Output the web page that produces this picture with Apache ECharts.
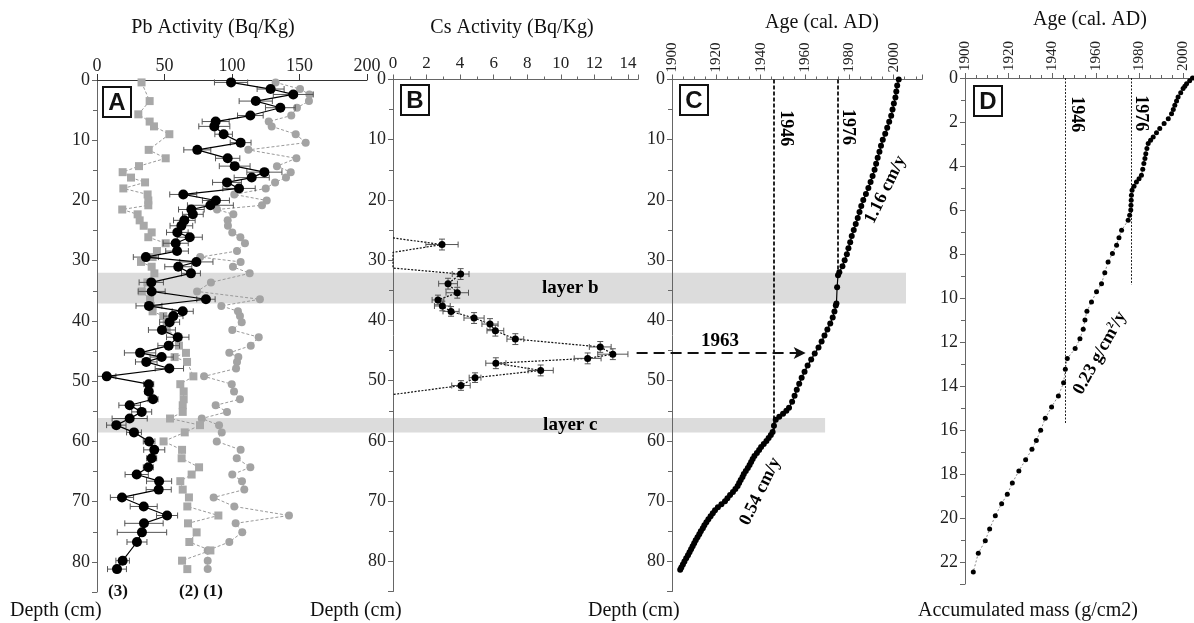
<!DOCTYPE html>
<html><head><meta charset="utf-8">
<script src="https://cdn.jsdelivr.net/npm/echarts@6/dist/echarts.min.js"></script>
<style>html,body{margin:0;padding:0;background:#fff}#c{width:1194px;height:623px}</style>
</head><body><div id="c"></div>
<script>
// ---------- Panel A : Pb activity ----------
const pbDepth3 = [0.4,1.5,2.4,3.5,4.6,5.9,6.9,7.7,9.0,10.4,11.6,13.0,14.3,15.3,16.2,17.0,18.0,19.0,20.0,20.8,21.5,22.3,23.3,24.2,25.3,26.1,27.1,28.4,29.4,30.2,31.0,32.1,33.6,35.1,36.4,37.5,38.4,39.2,40.2,41.5,42.7,44.1,45.3,46.0,46.8,47.9,49.2,50.5,51.7,53.0,54.0,55.1,56.2,57.3,58.5,60.0,61.4,62.8,64.3,65.5,66.6,68.0,69.3,70.8,72.3,73.6,75.1,76.7,79.8,81.2];
const pb3 = [99.3,128.6,145.4,117.6,135.8,113.6,87.9,86.9,93.8,106.4,74.3,96.8,102,124,114.6,96.3,105.2,63.9,88.1,84,69.9,71,64.7,62.5,59.5,68.7,58.3,59.3,36.2,73.6,60.2,69.6,40.2,40.5,80.7,38.5,63.5,56.5,53.8,48.1,59.8,53.1,31.9,47.9,36.5,53.6,7.2,38.3,38.3,41.5,24.2,33.1,24.2,14.3,27.4,38.6,42.4,40.5,38.0,29.4,46.0,45.7,18.5,34.6,51.9,34.8,33.3,29.6,19.0,14.8];
const pb3Err = [12.3,10,14.8,12.3,11,9.5,10,11.5,6.5,7.7,10,9,11.4,13,13,10.7,12,10,10,17,9.5,7.7,8,8.4,8,9.3,9.3,8.4,9.3,12.3,10,7,9,10,6.8,9.6,7.8,7.2,7.4,10,8.3,8,11.6,8.6,8,10.5,6.8,3.7,3,3.7,8,7.4,13,7.2,5.5,4.3,7.8,3.7,3.7,8.6,9.3,9.3,8.6,10,7.8,14.2,18.3,7.4,5,7];
const pbDepth1 = [0.4,1.5,2.4,3.5,4.6,5.9,6.9,7.7,9.0,10.4,11.6,13.0,14.3,15.3,16.2,17.0,18.0,19.0,20.0,20.8,21.5,22.3,23.3,24.2,25.3,26.1,27.1,28.4,29.4,30.2,31.0,32.1,33.6,35.1,36.4,37.5,38.4,39.2,40.2,41.5,42.7,44.1,45.3,46.0,46.8,47.9,49.2,50.5,51.7,53.0,54.0,55.1,56.2,57.3,58.5,60.0,61.4,62.8,64.3,65.5,66.6,68.0,69.3,70.8,72.3,73.6,75.1,76.7,78.1,79.8,81.2];
const pb1 = [132.3,150.4,157.3,157,148.1,143.9,127.2,129.4,147.2,154.6,112.1,147.7,133.3,143.5,140,131.9,125,101.7,125.7,122.2,88.9,101,96.8,97,100.2,106.2,109.6,103.7,76.4,106.4,100.7,113.1,84.4,74.1,120.7,92.1,104.4,105.9,107.2,100.2,119.8,113.9,98,104.7,103.7,103,79.3,99.8,101.5,105.9,87.9,96.3,77.6,90.4,92.4,88.7,106.4,103.5,113.6,100.2,107.4,109.1,86.4,101.7,142.2,102.7,107.6,98,82,82,82];
const pbDepth2 = [0.4,3.5,5.7,6.9,7.7,9.0,11.6,13.0,14.3,15.3,16.2,17.0,18.0,19.0,20.0,20.8,21.5,22.3,23.3,24.2,25.3,26.1,27.1,28.4,29.4,30.2,31.0,32.1,33.6,35.1,36.4,37.5,38.4,39.2,40.2,41.5,42.7,44.1,45.3,46.0,46.8,49.2,50.5,51.7,53.0,54.0,55.1,56.2,57.3,58.5,60.0,61.4,62.8,64.3,65.5,66.6,68.0,69.3,70.8,72.3,73.6,75.1,76.7,78.1,79.8,81.2];
const pb2 = [33,39,30.6,39,42.2,53.6,38.3,50.9,31.1,19,25.2,35.6,19.5,37.5,38,38,18.7,30.1,31.6,34.6,40.5,38,50.9,44.4,41.2,32.6,40.5,42.5,37.3,33.2,39.3,39.8,41.2,49.1,51.6,51.6,60.2,60.7,65.9,57.5,66.7,71.4,61.7,64.2,64.2,63.5,63.5,54.1,76.3,65,49.3,63,62.7,75.6,70.1,61.7,63.5,68.1,66.9,89.9,67.4,73.8,68.4,84,63,66.9];

// ---------- Panel B : Cs activity ----------
const csDepth = [26.3,27.4,28.7,31.3,32.3,33.9,35.4,36.6,37.6,38.5,39.6,40.6,41.7,43.1,44.4,45.6,46.3,47.1,48.3,49.5,50.8,52.3];
const cs = [0,2.92,0,0,4.03,3.28,3.83,2.68,2.94,3.46,4.83,5.78,6.1,7.29,12.35,13.1,11.6,6.13,8.8,4.89,4.05,0];
const csErr = [0,0.96,0,0,0.5,0.56,0.67,0.35,0.47,0.48,0.6,0.48,0.5,0.5,0.65,0.9,0.8,0.6,0.75,0.35,0.55,0];
const csDepthErr = [0,0.9,0,0,0.9,0.9,0.9,0.8,0.8,0.8,0.9,0.9,0.9,0.9,0.9,0.9,0.9,0.9,0.9,0.8,0.8,0];

// ---------- Panel C : age-depth ----------
const cDepth = [0,1,2,3,4,5,6,7,8,9,10,11,12,13,14,15,16,17,18,19,20,21,22,23,24,25,26,27,28,29,30,31,32,32.5,34.5,37.2,37.5,38.5,39.5,40.5,41.5,42.5,43.5,44.5,45.5,46.5,47.5,48.5,49.5,50.5,51.5,52.5,53.5,54.5,55,55.5,56,56.5,57.5,58.5,59,59.5,60,60.5,61,61.5,62,62.5,63,63.5,64,64.5,65,65.5,66,66.5,67,67.5,68,68.5,69,69.5,70,70.5,71,71.5,72,72.5,73,73.5,74,74.5,75,75.5,76,76.5,77,77.5,78,78.5,79,79.5,80,80.5,81,81.4];
const cYear = [2002.3,2001.6,2001.2,2000.8,2000.1,1999.5,1998.9,1998.0,1997.1,1996.2,1995.1,1994.3,1993.6,1992.8,1992.1,1991.4,1990.5,1989.6,1988.6,1987.5,1986.3,1985.4,1984.6,1983.8,1982.9,1982.0,1981.1,1980.4,1979.6,1978.9,1977.9,1976.9,1975.5,1974.9,1974.5,1974.2,1973.9,1973.3,1972.5,1971.4,1970.1,1968.8,1967.5,1966.1,1964.4,1962.8,1961.2,1959.8,1958.5,1957.4,1956.3,1955.3,1954.2,1952.8,1951.6,1950.1,1948.4,1946.8,1946.0,1945.4,1944.6,1943.6,1942.6,1941.4,1940.2,1939.3,1938.3,1937.2,1936.4,1935.7,1935.0,1934.2,1933.3,1932.4,1931.8,1931.0,1930.3,1929.6,1928.6,1927.5,1926.2,1925.0,1923.9,1922.3,1920.7,1919.4,1918.4,1917.4,1916.4,1915.5,1914.6,1913.9,1913.0,1912.3,1911.5,1910.7,1910.0,1909.3,1908.6,1907.9,1907.2,1906.4,1905.6,1904.9,1904.2,1903.7];

// ---------- Panel D : age vs accumulated mass ----------
const dMass = [0,0.13,0.26,0.37,0.48,0.67,0.86,1.05,1.24,1.43,1.62,1.85,2.07,2.3,2.49,2.68,2.83,2.98,3.21,3.44,3.66,3.89,4.15,4.42,4.58,4.73,4.92,5.1,5.33,5.56,5.78,6.0,6.24,6.47,6.92,7.26,7.6,7.98,8.36,8.85,9.35,9.72,10.18,10.6,11.0,11.42,11.85,12.3,12.75,13.24,13.85,14.45,14.95,15.47,16.01,16.48,16.88,17.35,17.86,18.41,18.92,19.35,19.9,20.5,21.03,21.6,22.45];
const dYear = [2004.3,2003.0,2001.6,2000.8,2000.0,1998.9,1997.7,1997.0,1996.2,1995.5,1994.7,1993.2,1991.3,1989.3,1987.8,1986.3,1985.1,1984.0,1983.4,1982.9,1982.5,1982.0,1981.5,1980.9,1979.8,1978.6,1977.5,1976.6,1976.3,1976.2,1976.1,1976.0,1975.5,1974.8,1971.8,1970.6,1969.5,1967.6,1965.6,1964.1,1962.6,1960.3,1958.0,1955.9,1955.0,1954.2,1952.7,1950.5,1946.9,1946.0,1945.2,1942.8,1939.7,1936.8,1934.7,1932.7,1930.7,1927.8,1924.7,1921.7,1919.4,1916.8,1913.9,1911.3,1909.3,1906.1,1903.8];

// tick labels / annotation texts
const eventYears = [1946, 1976];
const layerNames = ['layer b','layer c'];

const SERIF = "'Liberation Serif','Times New Roman',serif";
const chart = echarts.init(document.getElementById('c'), null, {renderer:'canvas'});

const zip = (xs, ys) => xs.map((x,i)=>[x, ys[i]]);

function errRender(params, api){
  const x = api.value(0), d = api.value(1), ex = api.value(2), ey = api.value(3);
  const st = {stroke:'#555', lineWidth:1};
  const ch = [];
  if (ex > 0){
    const a = api.coord([x-ex, d]), b = api.coord([x+ex, d]);
    ch.push({type:'line', shape:{x1:a[0],y1:a[1],x2:b[0],y2:b[1]}, style:st});
    ch.push({type:'line', shape:{x1:a[0],y1:a[1]-3,x2:a[0],y2:a[1]+3}, style:st});
    ch.push({type:'line', shape:{x1:b[0],y1:b[1]-3,x2:b[0],y2:b[1]+3}, style:st});
  }
  if (ey > 0){
    const a = api.coord([x, d-ey]), b = api.coord([x, d+ey]);
    ch.push({type:'line', shape:{x1:a[0],y1:a[1],x2:b[0],y2:b[1]}, style:st});
    ch.push({type:'line', shape:{x1:a[0]-3,y1:a[1],x2:a[0]+3,y2:a[1]}, style:st});
    ch.push({type:'line', shape:{x1:b[0]-3,y1:b[1],x2:b[0]+3,y2:b[1]}, style:st});
  }
  return {type:'group', children:ch};
}

function bandRender(params, api){
  const a = api.coord([api.value(0), api.value(2)]);
  const b = api.coord([api.value(1), api.value(3)]);
  return {type:'rect', shape:{x:a[0], y:a[1], width:b[0]-a[0], height:b[1]-a[1]}, style:{fill:'#dcdcdc'}};
}

const axisCol = '#666';
const plain = v => String(v);
function xAx(grid, min, max, interval, opts){
  return Object.assign({
    gridIndex:grid, type:'value', position:'top', min, max, interval,
    axisLine:{show:true, onZero:false, lineStyle:{color:axisCol, width:1}},
    axisTick:{show:true, length:5, lineStyle:{color:axisCol}},
    minorTick:{show:false},
    splitLine:{show:false},
    axisLabel:{fontFamily:SERIF, fontSize:17, color:'#222', margin:6, showMaxLabel:false, formatter:plain}
  }, opts||{});
}
function yAx(grid, min, max, interval, minorSplit, opts){
  return Object.assign({
    gridIndex:grid, type:'value', inverse:true, min, max, interval,
    axisLine:{show:true, onZero:false, lineStyle:{color:axisCol, width:1}},
    axisTick:{show:true, length:5, lineStyle:{color:axisCol}},
    minorTick:{show:true, splitNumber:minorSplit, length:4, lineStyle:{color:axisCol}},
    splitLine:{show:false},
    axisLabel:{fontFamily:SERIF, fontSize:18, color:'#222', margin:7, showMaxLabel:false, formatter:plain}
  }, opts||{});
}

const csPts = [];
cs.forEach((v,i)=>{ if (v>0) csPts.push([v, csDepth[i]]); });
const csErrData = cs.map((v,i)=>[v, csDepth[i], csErr[i], csDepthErr[i]]).filter(r=>r[0]>0);

const boldLbl = (size)=>({show:true, position:'inside', fontFamily:SERIF, fontWeight:'bold', fontSize:size, color:'#000', opacity:1, textBorderWidth:0, formatter:p=>p.data[2]});
const txtSeries = (xi, data, label, z) => ({type:'scatter', xAxisIndex:xi, yAxisIndex:xi, z:z||6, symbolSize:1, silent:true,
   itemStyle:{opacity:0}, label:label, data:data, emphasis:{disabled:true}});

const option = {
  animation:false,
  backgroundColor:'#fff',
  grid:[
    {left:97, top:80, width:270, height:512},
    {left:393, top:79.5, width:245, height:512},
    {left:672, top:79.5, width:250, height:512},
    {left:965, top:78, width:229, height:506},
    {left:97, top:79.5, width:809, height:512}
  ],
  xAxis:[
    xAx(0, 0, 200, 50, {axisLine:{show:true,onZero:false,lineStyle:{color:'#333'}}, axisTick:{show:true,length:6,lineStyle:{color:'#333'}}, axisLabel:{fontFamily:SERIF, fontSize:18, color:'#222', margin:5, formatter:plain}}),
    xAx(1, 0, 14.6, 2, {minorTick:{show:true, splitNumber:2, length:3, lineStyle:{color:axisCol}}, axisLabel:{fontFamily:SERIF, fontSize:17, color:'#222', margin:7, showMaxLabel:false, formatter:plain}}),
    xAx(2, 1900, 2012.8, 20, {minorTick:{show:true, splitNumber:4, length:3, lineStyle:{color:axisCol}}, axisLabel:{fontFamily:SERIF, fontSize:15, color:'#222', margin:7, rotate:-90, showMaxLabel:false, formatter:plain}}),
    xAx(3, 1900, 2005, 20, {minorTick:{show:true, splitNumber:4, length:3, lineStyle:{color:axisCol}}, axisLabel:{fontFamily:SERIF, fontSize:15, color:'#222', margin:7, rotate:-90, showMaxLabel:false, formatter:plain}}),
    {gridIndex:4, type:'value', min:0, max:100, show:false}
  ],
  yAxis:[
    yAx(0, 0, 85, 10, 2),
    yAx(1, 0, 85, 10, 2),
    yAx(2, 0, 85, 10, 2),
    yAx(3, 0, 23, 2, 2),
    {gridIndex:4, type:'value', inverse:true, min:0, max:85, show:false}
  ],
  graphic:[
    {type:'text', style:{text:'Pb Activity (Bq/Kg)', x:213, y:28, fill:'#111', font:'20px '+SERIF, textAlign:'center', textVerticalAlign:'middle', verticalAlign:'middle'}},
    {type:'text', style:{text:'Cs Activity (Bq/Kg)', x:512, y:28, fill:'#111', font:'20px '+SERIF, textAlign:'center', textVerticalAlign:'middle', verticalAlign:'middle'}},
    {type:'text', style:{text:'Age (cal. AD)', x:822, y:23, fill:'#111', font:'20px '+SERIF, textAlign:'center', textVerticalAlign:'middle', verticalAlign:'middle'}},
    {type:'text', style:{text:'Age (cal. AD)', x:1090, y:20, fill:'#111', font:'20px '+SERIF, textAlign:'center', textVerticalAlign:'middle', verticalAlign:'middle'}},
    {type:'text', style:{text:'Depth (cm)', x:10, y:611, fill:'#111', font:'20px '+SERIF, textAlign:'left', textVerticalAlign:'middle', verticalAlign:'middle'}},
    {type:'text', style:{text:'Depth (cm)', x:310, y:611, fill:'#111', font:'20px '+SERIF, textAlign:'left', textVerticalAlign:'middle', verticalAlign:'middle'}},
    {type:'text', style:{text:'Depth (cm)', x:588, y:611, fill:'#111', font:'20px '+SERIF, textAlign:'left', textVerticalAlign:'middle', verticalAlign:'middle'}},
    {type:'text', style:{text:'Accumulated mass (g/cm2)', x:918, y:611, fill:'#111', font:'20px '+SERIF, textAlign:'left', textVerticalAlign:'middle', verticalAlign:'middle'}},
    {type:'text', style:{text:'(3)', x:118, y:592, fill:'#111', font:'bold 17px '+SERIF, textAlign:'center', textVerticalAlign:'middle', verticalAlign:'middle'}},
    {type:'text', style:{text:'(2) (1)', x:201, y:592, fill:'#111', font:'bold 17px '+SERIF, textAlign:'center', textVerticalAlign:'middle', verticalAlign:'middle'}},
    ...[['A',103,87],['B',401,85],['C',680,85],['D',974,86]].map(([t,x,y])=>({
      type:'group', z:100, children:[
        {type:'rect', shape:{x:x, y:y, width:28, height:30}, style:{fill:'#fff', stroke:'#111', lineWidth:2}},
        {type:'text', style:{text:t, x:x+14, y:y+16, fill:'#111', font:'bold 24px "Liberation Sans", Arial, sans-serif', textAlign:'center', textVerticalAlign:'middle', verticalAlign:'middle'}}
      ]}))
  ],
  series:[
    // grey bands (event layers)
    {type:'custom', xAxisIndex:4, yAxisIndex:4, z:0, silent:true, renderItem:bandRender,
     encode:{x:[0,1], y:[2,3]}, data:[[0,100,32.1,37.2],[0,90,56.2,58.6]]},
    // Panel A series (1) grey circles
    {type:'line', xAxisIndex:0, yAxisIndex:0, z:3, data:zip(pb1, pbDepth1), symbol:'circle', symbolSize:8,
     itemStyle:{color:'#a3a3a3'}, lineStyle:{color:'#9a9a9a', width:1, type:[3,2]}},
    // Panel A series (2) grey squares
    {type:'line', xAxisIndex:0, yAxisIndex:0, z:3, data:zip(pb2, pbDepth2), symbol:'rect', symbolSize:8,
     itemStyle:{color:'#a8a8a8'}, lineStyle:{color:'#9a9a9a', width:1, type:[3,2]}},
    // Panel A series (3) error bars
    {type:'custom', xAxisIndex:0, yAxisIndex:0, z:4, renderItem:errRender, encode:{x:0, y:1},
     data:pb3.map((v,i)=>[v, pbDepth3[i], pb3Err[i], 0])},
    // Panel A series (3) black
    {type:'line', xAxisIndex:0, yAxisIndex:0, z:5, data:zip(pb3, pbDepth3), symbol:'circle', symbolSize:10,
     itemStyle:{color:'#000'}, lineStyle:{color:'#000', width:1.2}},
    // Panel B line
    {type:'line', xAxisIndex:1, yAxisIndex:1, z:3, data:zip(cs, csDepth), showSymbol:false, symbol:'none',
     lineStyle:{color:'#111', width:1.2, type:[2,1.5]}},
    {type:'custom', xAxisIndex:1, yAxisIndex:1, z:4, renderItem:errRender, encode:{x:0, y:1}, data:csErrData},
    {type:'scatter', xAxisIndex:1, yAxisIndex:1, z:5, data:csPts, symbol:'circle', symbolSize:7, itemStyle:{color:'#000', opacity:1}},
    // Panel C
    {type:'line', xAxisIndex:2, yAxisIndex:2, z:5, data:zip(cYear, cDepth), symbol:'circle', symbolSize:6,
     itemStyle:{color:'#000'}, lineStyle:{color:'#000', width:1.2},
     markLine:{silent:true, symbol:['none','none'], label:{show:false}, lineStyle:{color:'#111', width:1.8, type:[4,2]},
       data:[[{coord:[1946,0]},{coord:[1946,58.3]}],[{coord:[1974.6,0]},{coord:[1974.6,32.3]}]]}},
    txtSeries(2, [[1951.2,8.1,String(eventYears[0])],[1979.1,7.9,String(eventYears[1])]], Object.assign(boldLbl(18), {rotate:-90})),
    txtSeries(2, [[1996.3,18.3,'1.16 cm/y'],[1939.8,68.4,'0.54 cm/y']], Object.assign(boldLbl(18), {rotate:64})),
    // Panel D
    {type:'line', xAxisIndex:3, yAxisIndex:3, z:5, data:zip(dYear, dMass), symbol:'circle', symbolSize:5,
     itemStyle:{color:'#000'}, lineStyle:{color:'#888', width:1, type:[2,2]},
     markLine:{silent:true, symbol:['none','none'], label:{show:false}, lineStyle:{color:'#222', width:1, type:[2,1.5]},
       data:[[{coord:[1946,0]},{coord:[1946,15.7]}],[{coord:[1976,0]},{coord:[1976,9.4]}]]}},
    txtSeries(3, [[1951,1.65,String(eventYears[0])],[1980.6,1.6,String(eventYears[1])]], Object.assign(boldLbl(18), {rotate:-90})),
    txtSeries(3, [[1961.9,12.5,'0.23 g/cm{s|2}/y']], Object.assign(boldLbl(18), {rotate:61, rich:{s:{fontFamily:SERIF, fontWeight:'bold', fontSize:10, color:'#000', padding:[0,0,9,0]}}})),
    // overlay labels and 1963 arrow
    Object.assign(txtSeries(4, [[58.5,34.6,layerNames[0]],[58.5,57.4,layerNames[1]],[77,43.4,'1963']], boldLbl(19), 7), {
     markLine:{silent:true, symbol:['none','arrow'], symbolSize:[9,12], label:{show:false},
       lineStyle:{color:'#111', width:2, type:[11,6], opacity:1},
       data:[[{coord:[66.7,45.4]},{coord:[87.6,45.4]}]]}})
  ]
};
chart.setOption(option);
</script>
</body></html>
